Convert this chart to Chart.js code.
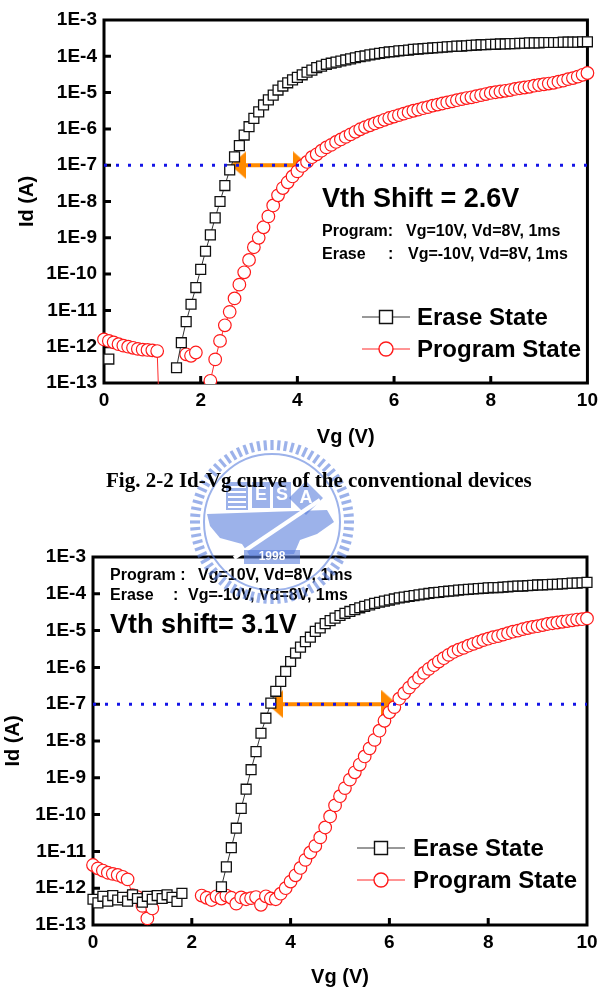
<!DOCTYPE html>
<html>
<head>
<meta charset="utf-8">
<script src="https://cdn.jsdelivr.net/npm/chart.js@4.4.1/dist/chart.umd.min.js"></script>
<style>
  html, body { margin: 0; padding: 0; background: #fff; }
  body { width: 604px; height: 1003px; position: relative; overflow: hidden; }
  canvas { position: absolute; left: 0; }
  #plot1 { top: 0; z-index: 1; }
  #plot2 { top: 530px; z-index: 1; }
  #logo { top: 0; z-index: 2; pointer-events: none; }
  #caption {
    position: absolute; left: 106px; top: 468px; z-index: 3;
    font: bold 21px "Liberation Serif", "Times New Roman", serif;
    line-height: 24px; white-space: nowrap; color: #000;
  }
</style>
</head>
<body>
<canvas id="plot1" width="604" height="460"></canvas>
<div id="caption">Fig. 2-2 Id-Vg curve of the conventional devices</div>
<canvas id="plot2" width="604" height="473"></canvas>
<canvas id="logo" width="604" height="1003"></canvas>
<script>
// gate voltage sweep (V), shared by all curves
const vgSweep = [
  0, 0.1, 0.2, 0.3, 0.4, 0.5, 0.6, 0.7, 0.8, 0.9,
  1, 1.1, 1.2, 1.3, 1.4, 1.5, 1.6, 1.7, 1.8, 1.9,
  2, 2.1, 2.2, 2.3, 2.4, 2.5, 2.6, 2.7, 2.8, 2.9,
  3, 3.1, 3.2, 3.3, 3.4, 3.5, 3.6, 3.7, 3.8, 3.9,
  4, 4.1, 4.2, 4.3, 4.4, 4.5, 4.6, 4.7, 4.8, 4.9,
  5, 5.1, 5.2, 5.3, 5.4, 5.5, 5.6, 5.7, 5.8, 5.9,
  6, 6.1, 6.2, 6.3, 6.4, 6.5, 6.6, 6.7, 6.8, 6.9,
  7, 7.1, 7.2, 7.3, 7.4, 7.5, 7.6, 7.7, 7.8, 7.9,
  8, 8.1, 8.2, 8.3, 8.4, 8.5, 8.6, 8.7, 8.8, 8.9,
  9, 9.1, 9.2, 9.3, 9.4, 9.5, 9.6, 9.7, 9.8, 9.9,
  10
];

// log10(Id / A), null = below the axis / not shown
// Fig. 2-2 conventional device
const eraseLog1 = [
  null, -12.34, null, null, null, null, null, null, null, null,
  null, null, null, null, null, -12.58, -11.89, -11.31, -10.83, -10.37,
  -9.87, -9.37, -8.92, -8.45, -8.00, -7.56, -7.13, -6.77, -6.46, -6.17,
  -5.94, -5.71, -5.53, -5.34, -5.20, -5.07, -4.93, -4.82, -4.73, -4.65,
  -4.58, -4.51, -4.44, -4.38, -4.31, -4.27, -4.22, -4.19, -4.16, -4.13,
  -4.10, -4.07, -4.04, -4.01, -3.99, -3.96, -3.94, -3.92, -3.90, -3.88,
  -3.87, -3.85, -3.84, -3.83, -3.81, -3.80, -3.79, -3.78, -3.77, -3.76,
  -3.75, -3.74, -3.73, -3.72, -3.72, -3.71, -3.70, -3.69, -3.68, -3.68,
  -3.67, -3.67, -3.66, -3.66, -3.65, -3.65, -3.64, -3.64, -3.63, -3.63,
  -3.63, -3.62, -3.62, -3.62, -3.62, -3.61, -3.61, -3.61, -3.61, -3.60,
  -3.60
];
const programLog1 = [
  -11.80, -11.84, -11.88, -11.93, -11.97, -12.00, -12.03, -12.06, -12.08, -12.09,
  -12.10, -12.12, -16.0, null, null, null, null, -12.21, -12.25, -12.16,
  null, null, -12.94, -12.35, -11.84, -11.41, -11.04, -10.67, -10.29, -9.95,
  -9.61, -9.26, -9.00, -8.71, -8.41, -8.11, -7.83, -7.63, -7.47, -7.31,
  -7.17, -7.02, -6.91, -6.78, -6.70, -6.60, -6.51, -6.44, -6.36, -6.29,
  -6.22, -6.15, -6.08, -6.01, -5.95, -5.90, -5.85, -5.80, -5.75, -5.70,
  -5.66, -5.62, -5.58, -5.54, -5.50, -5.47, -5.43, -5.40, -5.36, -5.33,
  -5.30, -5.27, -5.24, -5.21, -5.18, -5.15, -5.13, -5.10, -5.07, -5.04,
  -5.01, -4.99, -4.97, -4.95, -4.93, -4.90, -4.88, -4.86, -4.84, -4.81,
  -4.79, -4.77, -4.75, -4.73, -4.70, -4.67, -4.63, -4.60, -4.56, -4.51,
  -4.46
];

// second figure
const eraseLog2 = [
  -12.30, -12.40, -12.22, -12.35, -12.20, -12.32, -12.25, -12.35, -12.18, -12.28,
  -12.38, -12.22, -12.30, -12.20, -12.28, -12.18, -12.25, -12.36, -12.14, null,
  null, null, null, null, null, null, -11.96, -11.42, -10.90, -10.37,
  -9.83, -9.31, -8.78, -8.29, -7.79, -7.38, -6.97, -6.65, -6.38, -6.11,
  -5.84, -5.61, -5.45, -5.30, -5.18, -5.02, -4.93, -4.81, -4.73, -4.66,
  -4.59, -4.53, -4.48, -4.43, -4.38, -4.34, -4.30, -4.26, -4.23, -4.20,
  -4.17, -4.14, -4.11, -4.09, -4.07, -4.05, -4.03, -4.01, -3.99, -3.97,
  -3.96, -3.94, -3.93, -3.92, -3.90, -3.89, -3.88, -3.87, -3.86, -3.85,
  -3.84, -3.83, -3.83, -3.82, -3.81, -3.80, -3.79, -3.79, -3.78, -3.77,
  -3.76, -3.76, -3.75, -3.74, -3.74, -3.73, -3.72, -3.71, -3.71, -3.70,
  -3.69
];
const programLog2 = [
  -11.37, -11.46, -11.52, -11.58, -11.61, -11.64, -11.69, -11.76, -12.19, -12.24,
  -12.48, -12.82, -12.55, null, null, null, null, null, null, null,
  null, null, -12.20, -12.26, -12.32, -12.22, -12.28, -12.20, -12.26, -12.42,
  -12.25, -12.30, -12.27, -12.24, -12.45, -12.22, -12.28, -12.30, -12.15, -12.00,
  -11.82, -11.65, -11.45, -11.23, -11.03, -10.85, -10.62, -10.35, -10.05, -9.75,
  -9.50, -9.28, -9.05, -8.85, -8.64, -8.42, -8.20, -7.97, -7.72, -7.45,
  -7.22, -7.08, -6.85, -6.70, -6.55, -6.41, -6.28, -6.15, -6.04, -5.94,
  -5.84, -5.75, -5.66, -5.58, -5.52, -5.47, -5.41, -5.36, -5.31, -5.26,
  -5.22, -5.18, -5.15, -5.11, -5.07, -5.03, -5.00, -4.96, -4.93, -4.90,
  -4.88, -4.85, -4.82, -4.80, -4.78, -4.76, -4.74, -4.72, -4.70, -4.69,
  -4.67
];

// Vth read-out current and arrow ends (Vg of the arrowhead centres)
const refCurrent = 1e-7;
const vthArrow1 = [2.78, 4.07];
const vthArrow2 = [3.69, 6.0];

// axes
const vgRange = [0, 10];
const idDecades = [1e-13, 1e-12, 1e-11, 1e-10, 1e-9, 1e-8, 1e-7, 1e-6, 1e-5, 1e-4, 1e-3];

const FONT = '"Liberation Sans", Arial, Helvetica, sans-serif';
const ORANGE = '#ff8a00';

function toPoints(logs) {
  return vgSweep.map((v, i) => ({ x: v, y: logs[i] === null ? null : Math.pow(10, logs[i]) }));
}

// orange arrowhead used as point style (points right, rotated for the left end)
const arrowHead = document.createElement('canvas');
arrowHead.width = 16;
arrowHead.height = 28;
(function () {
  const g = arrowHead.getContext('2d');
  g.fillStyle = ORANGE;
  g.beginPath();
  g.moveTo(0, 0);
  g.lineTo(16, 14);
  g.lineTo(0, 28);
  g.closePath();
  g.fill();
})();

// thick frame + inward ticks
const framePlugin = {
  id: 'frame',
  beforeDatasetsDraw(chart) {
    const { ctx, chartArea: a, scales } = chart;
    ctx.save();
    ctx.strokeStyle = '#000';
    ctx.lineWidth = 3;
    ctx.strokeRect(a.left, a.top, a.right - a.left, a.bottom - a.top);
    ctx.beginPath();
    scales.x.ticks.forEach(t => {
      if (t.value <= scales.x.min || t.value >= scales.x.max) return;
      const px = scales.x.getPixelForValue(t.value);
      ctx.moveTo(px, a.bottom);
      ctx.lineTo(px, a.bottom - 7);
    });
    scales.y.ticks.forEach(t => {
      if (t.value <= scales.y.min || t.value >= scales.y.max) return;
      const py = scales.y.getPixelForValue(t.value);
      ctx.moveTo(a.left, py);
      ctx.lineTo(a.left + 7, py);
    });
    ctx.stroke();
    ctx.restore();
  }
};

// free text and the in-plot legend
const notesPlugin = {
  id: 'notes',
  afterDraw(chart, args, opts) {
    const ctx = chart.ctx;
    ctx.save();
    ctx.fillStyle = '#000';
    ctx.textBaseline = 'alphabetic';
    (opts.items || []).forEach(n => {
      ctx.font = 'bold ' + n.s + 'px ' + FONT;
      ctx.fillText(n.t, n.x, n.y);
    });
    const lg = opts.legend;
    if (lg) {
      lg.rows.forEach(r => {
        const ds = chart.data.datasets[r.ds];
        const mid = (lg.x0 + lg.x1) / 2;
        ctx.strokeStyle = ds.borderColor;
        ctx.lineWidth = 1;
        ctx.beginPath();
        ctx.moveTo(lg.x0, r.y);
        ctx.lineTo(lg.x1, r.y);
        ctx.stroke();
        ctx.fillStyle = '#fff';
        ctx.strokeStyle = ds.pointBorderColor;
        ctx.lineWidth = 1.4;
        ctx.beginPath();
        if (ds.pointStyle === 'rect') ctx.rect(mid - 6.5, r.y - 6.5, 13, 13);
        else ctx.arc(mid, r.y, 7, 0, Math.PI * 2);
        ctx.fill();
        ctx.stroke();
        ctx.fillStyle = '#000';
        ctx.font = 'bold 24px ' + FONT;
        ctx.textBaseline = 'middle';
        ctx.fillText(ds.label, lg.tx, r.y + 1);
      });
    }
    ctx.restore();
  }
};

function makeChart(id, cfg) {
  const clip = { left: 10, top: 10, right: 10, bottom: 1 };
  return new Chart(document.getElementById(id), {
    type: 'line',
    data: {
      datasets: [
        {
          label: 'Erase State',
          data: toPoints(cfg.erase),
          borderColor: '#333',
          borderWidth: 1,
          pointStyle: 'rect',
          pointRadius: 7,
          pointBorderColor: '#111',
          pointBackgroundColor: '#fff',
          pointBorderWidth: 1.3,
          spanGaps: false,
          clip: clip,
          order: 1
        },
        {
          label: 'Program State',
          data: toPoints(cfg.program),
          borderColor: '#ff2a2a',
          borderWidth: 1,
          pointStyle: 'circle',
          pointRadius: 6.3,
          pointBorderColor: '#ff1a1a',
          pointBackgroundColor: '#fff',
          pointBorderWidth: 1.2,
          spanGaps: false,
          clip: clip,
          order: 2
        },
        {
          label: 'ref',
          data: vgRange.map(v => ({ x: v, y: refCurrent })),
          borderColor: '#1414e6',
          borderWidth: 3,
          borderDash: [3, 9],
          pointRadius: 0,
          order: 0
        },
        {
          label: 'shift',
          data: cfg.arrow.map(v => ({ x: v, y: refCurrent })),
          borderColor: ORANGE,
          borderWidth: 4,
          pointStyle: arrowHead,
          pointRotation: [180, 0],
          pointRadius: 8,
          clip: clip,
          order: 3
        }
      ]
    },
    options: {
      responsive: false,
      animation: false,
      devicePixelRatio: 1,
      events: [],
      layout: { padding: cfg.padding },
      plugins: {
        legend: { display: false },
        tooltip: { enabled: false },
        notes: { items: cfg.notes, legend: cfg.legend }
      },
      scales: {
        x: {
          type: 'linear',
          min: vgRange[0],
          max: vgRange[1],
          grid: { display: false, drawTicks: false },
          border: { display: false },
          ticks: { stepSize: 2, padding: 6, color: '#000', font: { family: FONT, size: 19, weight: 'bold' } },
          title: { display: true, text: 'Vg (V)', color: '#000', padding: { top: 0, bottom: cfg.xTitlePad }, font: { family: FONT, size: 20, weight: 'bold' } },
          afterFit: (s) => { s.height = cfg.xHeight; }
        },
        y: {
          type: 'logarithmic',
          min: idDecades[0],
          max: idDecades[idDecades.length - 1],
          grid: { display: false, drawTicks: false },
          border: { display: false },
          afterBuildTicks: (s) => { s.ticks = idDecades.map(v => ({ value: v })); },
          ticks: {
            padding: 7,
            color: '#000',
            font: { family: FONT, size: 19, weight: 'bold' },
            callback: (v) => '1E' + Math.round(Math.log10(v))
          },
          title: { display: true, text: 'Id (A)', color: '#000', padding: { top: cfg.yTitlePad, bottom: 0 }, font: { family: FONT, size: 20, weight: 'bold' } },
          afterFit: (s) => { s.width = cfg.yWidth; }
        }
      }
    },
    plugins: [framePlugin, notesPlugin]
  });
}

makeChart('plot1', {
  erase: eraseLog1,
  program: programLog1,
  arrow: vthArrow1,
  padding: { top: 20, right: 12, left: 0, bottom: 0 },
  yWidth: 104,
  xHeight: 77,
  xTitlePad: 11,
  yTitlePad: 15,
  notes: [
    { t: 'Vth Shift = 2.6V', x: 322, y: 207, s: 27 },
    { t: 'Program:', x: 322, y: 236, s: 16 },
    { t: 'Vg=10V, Vd=8V, 1ms', x: 406, y: 236, s: 16 },
    { t: 'Erase', x: 322, y: 259, s: 16 },
    { t: ':', x: 388, y: 259, s: 16 },
    { t: 'Vg=-10V, Vd=8V, 1ms', x: 408, y: 259, s: 16 }
  ],
  legend: { x0: 362, x1: 410, tx: 417, rows: [{ ds: 0, y: 317 }, { ds: 1, y: 349 }] }
});

makeChart('plot2', {
  erase: eraseLog2,
  program: programLog2,
  arrow: vthArrow2,
  padding: { top: 27, right: 17, left: 0, bottom: 0 },
  yWidth: 93,
  xHeight: 78,
  xTitlePad: 14,
  yTitlePad: 1,
  notes: [
    { t: 'Program :', x: 110, y: 50, s: 16 },
    { t: 'Vg=10V, Vd=8V, 1ms', x: 198, y: 50, s: 16 },
    { t: 'Erase', x: 110, y: 70, s: 16 },
    { t: ':', x: 173, y: 70, s: 16 },
    { t: 'Vg=-10V, Vd=8V, 1ms', x: 188, y: 70, s: 16 },
    { t: 'Vth shift= 3.1V', x: 110, y: 103, s: 27 }
  ],
  legend: { x0: 357, x1: 405, tx: 413, rows: [{ ds: 0, y: 318 }, { ds: 1, y: 350 }] }
});

// faint university seal between the two plots
(function drawLogo() {
  const g = document.getElementById('logo').getContext('2d');
  const cx = 272, cy = 522;
  g.save();
  g.globalAlpha = 0.6;
  g.strokeStyle = '#5a7fdc';
  g.fillStyle = '#5a7fdc';
  g.lineWidth = 3.2;
  for (let k = 0; k < 72; k++) {
    const a = k / 72 * Math.PI * 2;
    g.beginPath();
    g.moveTo(cx + Math.cos(a) * 72, cy + Math.sin(a) * 72);
    g.lineTo(cx + Math.cos(a) * 82, cy + Math.sin(a) * 82);
    g.stroke();
  }
  g.lineWidth = 2;
  g.beginPath();
  g.arc(cx, cy, 68, 0, Math.PI * 2);
  g.stroke();
  // body
  const body = [[-65, -8], [55, -12], [62, 0], [45, 12], [28, 18], [22, 32], [-22, 34], [-30, 22], [-52, 16], [-62, 4]];
  g.beginPath();
  body.forEach((p, i) => (i ? g.lineTo(cx + p[0], cy + p[1]) : g.moveTo(cx + p[0], cy + p[1])));
  g.closePath();
  g.fill();
  // building and letter boxes
  g.fillRect(cx - 46, cy - 40, 22, 28);
  g.fillRect(cx - 20, cy - 40, 18, 26);
  g.fillRect(cx + 1, cy - 40, 18, 26);
  g.save();
  g.translate(cx + 34, cy - 24);
  g.rotate(Math.PI / 4);
  g.fillRect(-12, -12, 24, 24);
  g.restore();
  g.globalAlpha = 1;
  g.fillStyle = '#fff';
  for (let k = 0; k < 5; k++) g.fillRect(cx - 44, cy - 36 + k * 5, 18, 2);
  g.font = 'bold 18px ' + FONT;
  g.textAlign = 'center';
  g.textBaseline = 'middle';
  g.fillText('E', cx - 11, cy - 27);
  g.fillText('S', cx + 10, cy - 27);
  g.fillText('A', cx + 34, cy - 24);
  g.strokeStyle = '#fff';
  g.lineWidth = 4;
  g.beginPath();
  g.moveTo(cx - 38, cy + 36);
  g.lineTo(cx + 48, cy - 22);
  g.stroke();
  g.globalAlpha = 0.6;
  g.fillStyle = '#5a7fdc';
  g.fillRect(cx - 28, cy + 28, 56, 14);
  g.globalAlpha = 1;
  g.fillStyle = '#fff';
  g.font = 'bold 12px ' + FONT;
  g.fillText('1998', cx, cy + 35);
  g.restore();
})();
</script>
</body>
</html>
